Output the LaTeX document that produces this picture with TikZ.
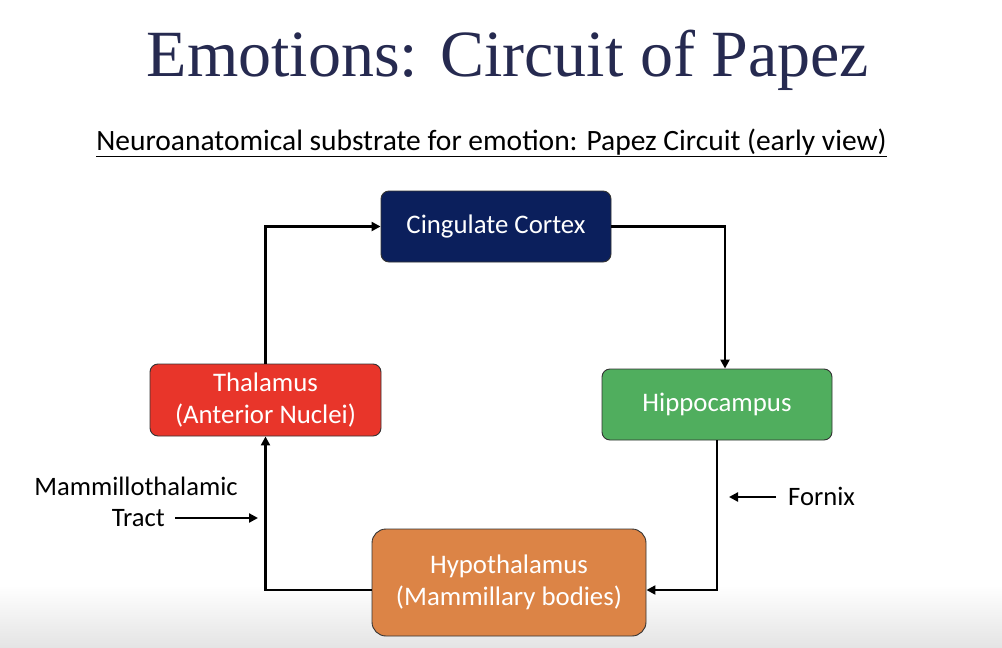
\documentclass[tikz,border=0pt]{standalone}
\usepackage{fontspec}
\setmainfont{Carlito}
\newfontfamily\titlefont{Liberation Serif}
\usetikzlibrary{arrows.meta}
\definecolor{titleblue}{HTML}{262A50}
\definecolor{cingfill}{HTML}{0B1F5C}
\definecolor{thalfill}{HTML}{E8352A}
\definecolor{hippofill}{HTML}{50AE5E}
\definecolor{hypofill}{HTML}{DC8446}
\definecolor{edgegray}{HTML}{333333}
\definecolor{bottomgray}{HTML}{E4E4E4}
\tikzset{
  box/.style={draw=edgegray, line width=0.9pt, rounded corners=8pt, text=white,
    align=center, inner sep=0pt, font=\fontsize{26.8}{32.5}\selectfont},
  arr/.style={line width=2.5pt, -{Triangle[length=9pt,width=9pt]}},
  lbl/.style={inner sep=0pt, font=\fontsize{26.6}{31}\selectfont}
}
\begin{document}
\begin{tikzpicture}[x=1pt,y=-1pt]
\useasboundingbox (0,0) rectangle (1002,648);
\fill[white] (0,0) rectangle (1002,648);
\shade[top color=white, bottom color=bottomgray] (0,585) rectangle (1002,648);

\node[inner sep=0pt, text=titleblue, font=\titlefont\fontsize{66}{70}\selectfont, anchor=base] (title) at (508,76) {Emotions: Circuit of Papez};
\node[inner sep=0pt, font=\fontsize{29.5}{32}\selectfont, anchor=base] (sub) at (491.5,150) {\underline{Neuroanatomical substrate for emotion: Papez Circuit (early view)}};

\node[box, fill=cingfill, minimum width=230pt, minimum height=71pt] (cing) at (496,226.5) {Cingulate Cortex};
\node[box, fill=thalfill, minimum width=231pt, minimum height=72pt] (thal) at (265.5,400) {Thalamus\\(Anterior Nuclei)};
\node[box, fill=hippofill, minimum width=230pt, minimum height=71pt] (hippo) at (717,404.5) {Hippocampus};
\node[box, fill=hypofill, rounded corners=14pt, minimum width=274pt, minimum height=107pt] (hypo) at (509,582.5) {Hypothalamus\\(Mammillary bodies)};

\draw[arr] (thal.north) |- (cing.west);
\draw[arr] (cing.east) -| ([xshift=8pt]hippo.north);
\draw[arr] (hippo.south) |- ([yshift=-7.5pt]hypo.east);
\draw[arr] ([yshift=-7.5pt]hypo.west) -| (thal.south);

\node[lbl, anchor=base] (mt1) at (136,495) {Mammillothalamic};
\node[lbl, anchor=base east] (mt2) at (165,526) {Tract};
\coordinate (mtend) at (258,518);
\draw[arr] ([xshift=10pt]mt2.east |- mtend) -- (mtend);

\node[lbl, anchor=base west] (fornix) at (788,505) {Fornix};
\coordinate (fxend) at (729,497);
\draw[arr] ([xshift=-12pt]fornix.west |- fxend) -- (fxend);
\end{tikzpicture}
\end{document}
